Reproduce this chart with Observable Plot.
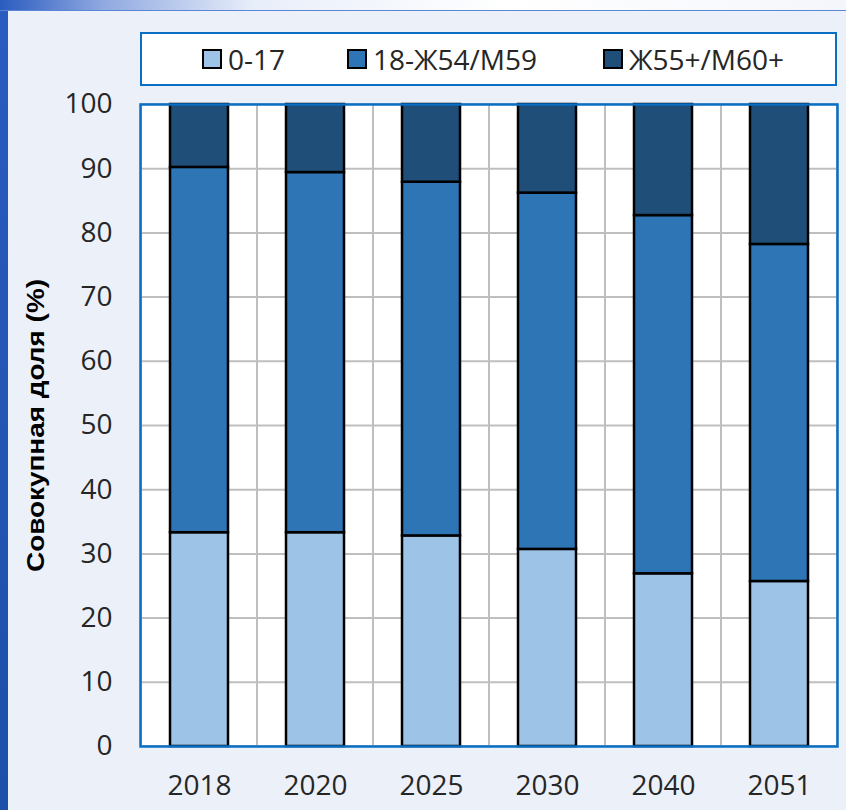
<!DOCTYPE html>
<html>
<head>
<meta charset="utf-8">
<script src="https://cdn.jsdelivr.net/npm/d3@7"></script>
<script src="https://cdn.jsdelivr.net/npm/@observablehq/plot@0.6"></script>
<style>
  html, body { margin: 0; padding: 0; }
  body { width: 846px; height: 810px; position: relative; overflow: hidden; background: #ECF0F8; font-family: "Open Sans", sans-serif; }
  #leftbar { position: absolute; left: 0; top: 0; width: 8px; height: 810px; background: linear-gradient(180deg, #2a5cc0, #1e4fa8); }
  #topbar { position: absolute; left: 0; top: 0; width: 846px; height: 10px; background: linear-gradient(90deg, #2a5cc0 0%, #8fa8e0 12%, #e8eefa 30%, #ffffff 60%, #f4f6fb 100%); border-bottom: 1.5px solid #5b86d6; }
  #legend { position: absolute; left: 140px; top: 32px; width: 697px; height: 54px; box-sizing: border-box; border: 2.5px solid #0a6fc4; background: #fff; }
  .item { position: absolute; top: 0; height: 49px; display: flex; align-items: center; gap: 6px; font-size: 28px; color: #262626; white-space: nowrap; }
  .sw { width: 16px; height: 16px; border: 2.5px solid #000; box-sizing: content-box; }
  #chart { position: absolute; left: 0; top: 90px; }
</style>
</head>
<body>
<div id="leftbar"></div>
<div id="topbar"></div>
<div id="legend"></div>
<div id="chart"></div>
<script>
const years = ["2018", "2020", "2025", "2030", "2040", "2051"];
const groups = ["0-17", "18-Ж54/М59", "Ж55+/М60+"];
const young = [33.3, 33.3, 32.8, 30.7, 26.9, 25.7];
const working = [56.9, 56.1, 55.1, 55.5, 55.8, 52.5];
const old = [9.8, 10.6, 12.1, 13.8, 17.3, 21.8];
const colors = ["#9DC3E6", "#2E75B6", "#1F4E79"];
const yTicks = [0, 10, 20, 30, 40, 50, 60, 70, 80, 90, 100];
const yLabel = "Совокупная доля (%)";
const legendLeft = [60, 205, 461];

const series = [young, working, old];
const data = years.flatMap((yr, i) => groups.map((g, k) => ({year: yr, group: g, value: series[k][i]})));

// legend
const legend = document.getElementById("legend");
groups.forEach((g, k) => {
  const it = document.createElement("div");
  it.className = "item";
  it.style.left = legendLeft[k] + "px";
  const sw = document.createElement("span");
  sw.className = "sw";
  sw.style.background = colors[k];
  const tx = document.createElement("span");
  tx.textContent = g;
  it.appendChild(sw);
  it.appendChild(tx);
  legend.appendChild(it);
});

const chart = Plot.plot({
  width: 846,
  height: 720,
  marginTop: 14,
  marginBottom: 64,
  marginLeft: 140,
  marginRight: 9,
  style: {fontFamily: "Open Sans", fontSize: "28px", color: "#262626", background: "transparent", overflow: "visible"},
  x: {domain: years, padding: 0, label: null},
  y: {domain: [0, 100], label: null},
  color: {domain: groups, range: colors},
  marks: [
    Plot.frame({fill: "white", stroke: null}),
    Plot.ruleY(yTicks.slice(1, -1), {stroke: "#BFBFBF", strokeWidth: 2}),
    Plot.barY(years, {x: d => d, y1: 0, y2: 100, fill: "none", stroke: "#BFBFBF", strokeWidth: 2}),
    Plot.barY(data, {x: "year", y: "value", fill: "group", stroke: "#000", strokeWidth: 2.5, insetLeft: 29, insetRight: 29}),
    Plot.frame({stroke: "#0a6fc4", strokeWidth: 2.5}),
    Plot.axisX({tickSize: 0, tickPadding: 29, fontSize: 28, label: null}),
    Plot.axisY({ticks: yTicks, tickSize: 0, tickPadding: 28, fontSize: 28, label: null}),
    Plot.text([yLabel], {frameAnchor: "left", rotate: -90, dx: -104, textAnchor: "middle", fontWeight: "bold", fontSize: 24, fontFamily: "Liberation Sans", fill: "#000", className: "ylab"})
  ]
});
document.getElementById("chart").appendChild(chart);
// stretch the axis title to the reference's length
chart.querySelectorAll(".ylab text").forEach(t => {
  t.setAttribute("textLength", 293);
  t.setAttribute("lengthAdjust", "spacingAndGlyphs");
});
</script>
</body>
</html>
